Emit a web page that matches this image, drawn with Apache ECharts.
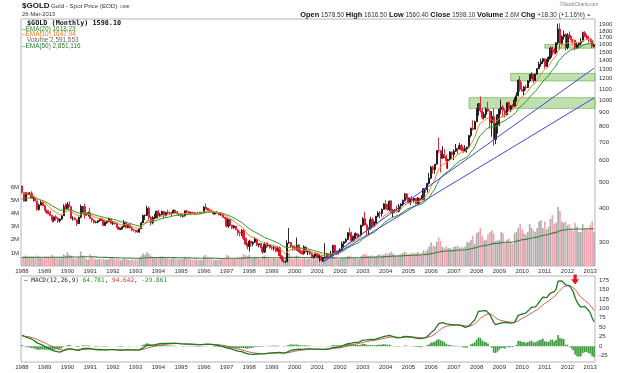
<!DOCTYPE html>
<html><head><meta charset="utf-8">
<script src="https://cdn.jsdelivr.net/npm/echarts@6/dist/echarts.min.js"></script>
<style>html,body{margin:0;padding:0;background:#fff}#c{width:624px;height:373px}</style>
</head><body><div id="c"></div>
<script>
// ---------- DATA (monthly, Jan 1988 .. Mar 2013) ----------
const firstYear = 1988;
const warmupCloses = [350,339,344,345,343,345,357,384,423,401,383,391,
                      405,406,421,453,452,448,462,453,460,468,492,484];
const closes = [
458,426,457,451,455,437,437,427,397,412,421,410,
394,387,383,377,362,373,368,360,366,376,408,401,
415,407,368,368,364,352,372,388,407,379,381,386,
368,363,356,357,361,367,362,347,354,358,366,353,
354,353,341,336,337,343,357,341,349,339,334,333,
330,328,337,354,377,378,401,371,355,369,370,391,
378,381,390,376,387,385,384,386,394,389,383,383,
375,376,392,389,385,387,384,383,384,383,387,387,
405,401,396,392,391,382,385,387,379,379,371,369,
345,364,348,340,345,334,326,325,332,311,296,290,
304,297,301,309,294,297,288,277,295,292,294,288,
286,287,279,287,268,261,255,255,299,300,291,288,
284,293,279,275,273,289,277,278,273,264,269,273,
265,267,258,264,265,271,266,273,293,279,275,279,
282,297,302,308,326,318,304,312,324,317,318,347,
367,348,334,337,364,346,354,375,385,384,397,416,
400,397,426,387,394,395,391,408,416,428,452,438,
422,434,429,436,417,437,430,433,473,470,495,517,
568,556,582,654,653,613,632,623,599,606,646,632,
650,665,663,681,657,650,665,673,743,789,783,834,
923,971,916,864,887,930,913,828,871,718,814,884,
927,942,917,884,979,927,955,952,1001,1040,1183,1097,
1081,1119,1113,1179,1213,1245,1182,1248,1307,1359,1386,1421,
1332,1411,1439,1556,1536,1500,1628,1826,1620,1714,1746,1565,
1738,1710,1668,1664,1561,1598,1622,1648,1772,1719,1713,1675,
1663,1579.8,1598.1];
const highs = [
485,458,458,458,460,463,443,440,427,417,430,428,
414,396,395,392,380,373,378,371,368,378,415,418,
423,425,410,375,373,361,373,414,408,418,384,390,
403,371,365,360,362,369,371,361,358,362,370,367,
360,358,354,344,340,345,363,358,351,351,342,337,
334,334,340,358,380,380,410,407,375,375,383,392,
396,386,393,392,389,396,390,388,397,396,392,384,
384,380,394,396,392,390,389,389,387,389,389,389,
408,418,402,397,396,391,390,391,388,386,384,373,
369,366,357,348,348,346,335,330,336,337,312,299,
307,304,303,314,301,297,298,289,301,300,300,296,
292,292,292,291,290,270,262,257,306,339,300,293,
293,313,296,285,280,293,291,280,280,275,270,276,
275,270,270,266,298,275,272,280,294,294,280,281,
286,303,304,311,328,340,329,318,327,324,322,349,
372,389,353,341,373,371,359,376,391,392,400,418,
430,416,427,429,398,398,410,416,418,432,456,456,
428,437,445,437,436,441,437,448,475,479,497,541,
575,575,584,654,730,656,678,663,632,610,650,648,
660,691,669,697,690,671,684,675,746,794,845,842,
937,978,1033,938,905,944,989,919,912,935,826,890,
935,1007,960,930,983,993,960,968,1024,1070,1195,1227,
1162,1127,1142,1185,1249,1266,1246,1250,1310,1388,1424,1432,
1424,1412,1448,1576,1577,1560,1631,1912,1921,1733,1803,1764,
1764,1791,1721,1680,1664,1640,1630,1694,1788,1796,1755,1726,
1694,1683,1616.5];
const lows = [
455,425,425,447,448,436,425,425,393,393,410,408,
392,383,381,378,355,357,361,354,355,364,376,397,
400,410,368,361,362,345,351,368,384,367,376,374,
367,355,352,353,353,358,360,346,346,352,357,350,
348,349,340,335,333,335,341,337,339,341,330,329,
326,326,326,337,354,363,376,364,347,350,367,370,
375,373,377,368,375,380,380,376,386,385,380,376,
372,371,374,386,382,383,382,380,381,381,382,383,
387,397,393,389,389,380,380,384,378,377,370,366,
340,340,346,336,337,333,318,316,317,306,294,283,
278,289,291,299,291,288,286,273,275,286,290,285,
282,280,276,278,268,257,252,252,255,297,287,280,
280,280,276,272,270,271,276,270,270,265,262,266,
262,255,256,255,263,265,262,264,270,274,270,271,
276,282,287,299,306,316,302,302,311,311,313,316,
343,346,320,319,335,341,342,353,371,368,374,398,
398,392,391,385,371,386,387,387,397,409,424,432,
418,412,424,421,414,415,418,430,433,457,458,490,
513,537,538,582,640,543,610,612,560,560,605,610,
603,646,634,660,650,640,647,642,672,730,775,782,
834,878,902,852,850,863,907,786,735,681,690,754,
803,889,865,865,880,913,905,937,950,990,1033,1075,
1074,1044,1087,1110,1161,1200,1155,1175,1242,1314,1329,1360,
1308,1326,1380,1417,1462,1478,1478,1603,1534,1604,1671,1523,
1537,1687,1627,1612,1527,1547,1564,1591,1647,1701,1677,1635,
1626,1555,1560.4];
// volume in millions
const volumes = [
.75,.70,.80,.65,.60,.70,.65,.60,.80,.70,.65,.60,
.70,.65,.60,.70,.85,.70,.65,.60,.55,.60,.90,.80,
1.05,.85,.80,.60,.55,.65,.70,1.10,.80,.75,.55,.50,
.90,.65,.55,.50,.50,.55,.50,.55,.50,.50,.55,.60,
.55,.50,.55,.50,.45,.50,.60,.55,.50,.45,.50,.45,
.50,.45,.55,.80,.95,.85,1.05,.95,.80,.70,.65,.65,
.70,.65,.70,.65,.60,.60,.55,.55,.60,.55,.55,.50,
.55,.55,.70,.60,.55,.50,.50,.50,.50,.45,.50,.45,
.80,.85,.60,.55,.50,.50,.45,.45,.50,.50,.55,.55,
.85,.80,.60,.55,.55,.55,.70,.65,.70,.90,.85,.75,
.85,.65,.60,.70,.60,.55,.55,.75,.80,.65,.55,.55,
.55,.60,.55,.55,.70,.75,.70,.65,1.05,1.00,.60,.55,
.60,.80,.60,.55,.55,.65,.55,.55,.55,.55,.50,.55,
.55,.60,.55,.50,.80,.60,.55,.55,.85,.65,.55,.50,
.55,.65,.60,.60,.75,.80,.70,.60,.65,.60,.55,.75,
.85,.95,.85,.75,.80,.80,.70,.75,.85,.90,.80,.85,
1.00,.90,1.00,1.10,.95,.80,.80,.85,.90,1.00,1.10,1.00,
.90,.95,1.00,.95,1.00,1.05,.95,1.00,1.20,1.10,1.25,1.50,
1.80,1.55,1.50,1.85,2.20,1.90,1.45,1.35,1.50,1.35,1.40,1.30,
1.45,1.50,1.55,1.40,1.45,1.40,1.50,1.85,1.80,2.00,2.30,1.70,
2.50,2.60,2.90,2.30,1.95,2.00,2.40,2.60,2.70,2.50,1.90,1.95,
2.00,2.60,2.50,1.80,2.00,2.10,1.80,1.70,2.50,2.60,2.90,3.20,
2.80,2.50,2.40,2.60,3.20,2.90,2.70,2.60,2.90,3.40,3.50,2.90,
3.40,2.80,3.00,3.60,3.90,3.20,3.30,4.50,4.20,3.40,3.30,3.40,
3.10,3.20,2.90,2.70,3.30,3.00,2.60,2.60,3.20,2.90,2.80,2.70,
3.10,3.40,2.59];
const volEmaSeed = 0.65;

const priceTicks = [300,400,500,600,700,800,900,1000,1100,1200,1300,1400,1500,1600,1700,1800,1900];
const volumeTicks = [1,2,3,4,5,6];
const macdTicks = [-25,0,25,50,75,100,125,150,175];

// support / resistance bands
const bandStart = ['2011-01','2009-07','2007-09'];
const bandLow   = [1555, 1178, 934];
const bandHigh  = [1605, 1256, 1022];
// trend lines [month, price]
const trendUpper = [['2001-04',255],['2013-03',1313]];
const trendLower = [['2001-04',255],['2013-03',1020]];
const arrowAt = ['2012-05', 176];

// ---------- derived ----------
const categories = [];
for (let i = 0; i < closes.length; i++) {
  const y = firstYear + Math.floor(i / 12), m = i % 12 + 1;
  categories.push(y + '-' + (m < 10 ? '0' + m : m));
}
const opens = closes.map((c, i) => i === 0 ? warmupCloses[warmupCloses.length - 1] : closes[i - 1]);
const candles = closes.map((c, i) => [opens[i], c, lows[i], highs[i]]);
function ema(vals, n, seed) {
  const k = 2 / (n + 1); let e = seed;
  return vals.map(v => { e = (e === undefined) ? v : v * k + e * (1 - k); return +e.toFixed(3); });
}
const W = warmupCloses.length;
const allC = warmupCloses.concat(closes);
const ema10 = ema(allC, 10).slice(W);
const ema20 = ema(allC, 20).slice(W);
const e12 = ema(allC, 12), e26 = ema(allC, 26);
const macdAll = e12.map((v, i) => v - e26[i]);
const sigAll = ema(macdAll, 9);
const macd = macdAll.slice(W).map(v => +v.toFixed(3));
const signal = sigAll.slice(W);
const hist = macd.map((v, i) => +(v - signal[i]).toFixed(3));
const volEma = ema(volumes, 50, volEmaSeed);
const volColor = closes.map((c, i) => (c < opens[i]) ? '#f2a3ad' : '#ababab');

// ---------- chart ----------
const FONT = '"Liberation Sans", Arial, sans-serif';
const MONO = '"DejaVu Sans Mono", monospace';
const chart = echarts.init(document.getElementById('c'), null, {renderer: 'canvas'});
const janOnly = (idx, val) => val.slice(5) === '01';
const xLabel = {interval: janOnly, formatter: v => v.slice(0, 4), fontSize: 6, fontFamily: FONT, color: '#333'};

chart.setOption({
  animation: false,
  backgroundColor: '#fff',
  grid: [
    {left: 21, right: 29, top: 19, height: 247, show: true, borderColor: '#b5b5b5', borderWidth: 1},
    {left: 21, right: 29, top: 276, height: 86, show: true, borderColor: '#b5b5b5', borderWidth: 1}
  ],
  xAxis: [
    {type: 'category', gridIndex: 0, data: categories, boundaryGap: true,
     axisLine: {show: false}, axisTick: {show: false}, splitLine: {show: false},
     axisLabel: Object.assign({margin: 2}, xLabel)},
    {type: 'category', gridIndex: 1, data: categories, boundaryGap: true,
     axisLine: {show: false}, axisTick: {show: false}, splitLine: {show: false},
     axisLabel: Object.assign({margin: 2}, xLabel)}
  ],
  yAxis: [
    {type: 'log', gridIndex: 0, position: 'right', min: 246, max: 1990, logBase: 10,
     axisLine: {show: false}, axisTick: {show: false}, splitLine: {show: false},
     axisLabel: {customValues: priceTicks, formatter: v => String(Math.round(v)), fontSize: 6, fontFamily: FONT, color: '#333', margin: 4}},
    {type: 'value', gridIndex: 0, position: 'left', min: 0, max: 18.85,
     axisLine: {show: false}, axisTick: {show: false}, splitLine: {show: false},
     axisLabel: {customValues: volumeTicks, formatter: '{value}M', fontSize: 6, fontFamily: FONT, color: '#333', margin: 2}},
    {type: 'value', gridIndex: 1, position: 'right', min: -41.7, max: 185.5,
     axisLine: {show: false}, axisTick: {show: false}, splitLine: {show: false},
     axisLabel: {customValues: macdTicks, fontSize: 6, fontFamily: FONT, color: '#333', margin: 4}}
  ],
  series: [
    {name: 'Volume', type: 'bar', xAxisIndex: 0, yAxisIndex: 1, data: volumes, barWidth: 1.6, z: 1,
     itemStyle: {color: p => volColor[p.dataIndex]}},
    {name: 'VolEMA50', type: 'line', xAxisIndex: 0, yAxisIndex: 1, data: volEma, symbol: 'none', z: 2,
     lineStyle: {color: '#3f7f3f', width: 1.1}},
    {name: 'Price', type: 'candlestick', xAxisIndex: 0, yAxisIndex: 0, data: candles, barWidth: 1.7, z: 3,
     itemStyle: {color: '#3a3a3a', color0: '#e3122d', borderColor: '#111', borderColor0: '#e3122d', borderWidth: 0.9},
     markArea: {silent: true, itemStyle: {color: 'rgba(140,200,110,0.55)', borderColor: '#6fb054', borderWidth: 0.7},
       data: bandStart.map((s, i) => [{xAxis: s, yAxis: bandLow[i]}, {yAxis: bandHigh[i]}])}},
    {name: 'EMA20', type: 'line', xAxisIndex: 0, yAxisIndex: 0, data: ema20, symbol: 'none', z: 4,
     lineStyle: {color: '#2e962e', width: 1}},
    {name: 'EMA10', type: 'line', xAxisIndex: 0, yAxisIndex: 0, data: ema10, symbol: 'none', z: 4,
     lineStyle: {color: '#f5831f', width: 1}},
    {name: 'TrendUpper', type: 'line', xAxisIndex: 0, yAxisIndex: 0, data: trendUpper, symbol: 'none', z: 5,
     lineStyle: {color: '#4646dc', width: 1}},
    {name: 'TrendLower', type: 'line', xAxisIndex: 0, yAxisIndex: 0, data: trendLower, symbol: 'none', z: 5,
     lineStyle: {color: '#4646dc', width: 1}},
    {name: 'Hist', type: 'bar', xAxisIndex: 1, yAxisIndex: 2, data: hist, barWidth: 1.6, z: 1,
     itemStyle: {color: '#3c9a3c'}},
    {name: 'Signal', type: 'line', xAxisIndex: 1, yAxisIndex: 2, data: signal, symbol: 'none', z: 2,
     lineStyle: {color: '#d44a4a', width: 0.9}},
    {name: 'MACD', type: 'line', xAxisIndex: 1, yAxisIndex: 2, data: macd, symbol: 'none', z: 3,
     lineStyle: {color: '#1f7a1f', width: 1.3},
     markPoint: {silent: true, symbol: 'path://M3,0 L7,0 L7,5 L10,5 L5,11 L0,5 L3,5 Z', symbolSize: [8, 10],
       itemStyle: {color: '#e8151f'}, label: {show: false}, data: [{coord: arrowAt}]}}
  ],
  graphic: [
    {type: 'text', x: 22, y: 6, style: {text: '$GOLD', font: 'bold 8px ' + FONT, fill: '#111', verticalAlign: 'middle', textVerticalAlign: 'middle'}},
    {type: 'text', x: 51, y: 6.3, style: {text: 'Gold - Spot Price (EOD)', font: '6.2px ' + FONT, fill: '#333', verticalAlign: 'middle', textVerticalAlign: 'middle'}},
    {type: 'text', x: 120, y: 6.5, style: {text: 'CME', font: '4.3px ' + FONT, fill: '#333', verticalAlign: 'middle', textVerticalAlign: 'middle'}},
    {type: 'text', x: 22, y: 14.3, style: {text: '26-Mar-2013', font: '5.8px ' + FONT, fill: '#333', verticalAlign: 'middle', textVerticalAlign: 'middle'}},
    {type: 'text', x: 598, y: 5, style: {text: '©StockCharts.com', font: '4.6px ' + FONT, fill: '#777', align: 'right', textAlign: 'right', verticalAlign: 'middle', textVerticalAlign: 'middle'}},
    {type: 'text', x: 591, y: 15, style: {
      text: '{b|Open} 1578.50 {b|High} 1616.50 {b|Low} 1560.40 {b|Close} 1598.10 {b|Volume} 2.6M {b|Chg} +18.30 (+1.16%) {g|▲}',
      font: '6.4px ' + FONT, fill: '#333', align: 'right', textAlign: 'right', verticalAlign: 'middle', textVerticalAlign: 'middle',
      rich: {b: {font: 'bold 7.4px ' + FONT, fill: '#111', color: '#111'}, g: {font: '4.5px ' + FONT, fill: '#2a8a2a', color: '#2a8a2a'}}}},
    {type: 'text', x: 27, y: 23.4, style: {text: '$GOLD (Monthly) 1598.10', font: 'bold 6.8px ' + MONO, fill: '#111', verticalAlign: 'middle', textVerticalAlign: 'middle'}},
    {type: 'text', x: 22, y: 29, style: {text: '–EMA(20) 1618.23', font: '6.4px ' + FONT, fill: '#2b8a2b', verticalAlign: 'middle', textVerticalAlign: 'middle'}},
    {type: 'text', x: 22, y: 34.7, style: {text: '–EMA(10) 1647.94', font: '6.4px ' + FONT, fill: '#f07818', verticalAlign: 'middle', textVerticalAlign: 'middle'}},
    {type: 'text', x: 27, y: 40.4, style: {text: 'Volume 2,591,553', font: '6.4px ' + FONT, fill: '#666', verticalAlign: 'middle', textVerticalAlign: 'middle'}},
    {type: 'text', x: 22, y: 46.1, style: {text: '–EMA(50) 2,851,116', font: '6.4px ' + FONT, fill: '#2b7a2b', verticalAlign: 'middle', textVerticalAlign: 'middle'}},
    {type: 'text', x: 24, y: 280.3, style: {
      text: '{k|– MACD(12,26,9)} {g|64.781}, {r|94.642}, {g|-29.861}',
      font: '6.1px ' + MONO, fill: '#333', verticalAlign: 'middle', textVerticalAlign: 'middle',
      rich: {k: {fill: '#222', color: '#222'}, g: {fill: '#2a8a2a', color: '#2a8a2a'}, r: {fill: '#c83232', color: '#c83232'}}}}
  ]
});
</script>
</body></html>
